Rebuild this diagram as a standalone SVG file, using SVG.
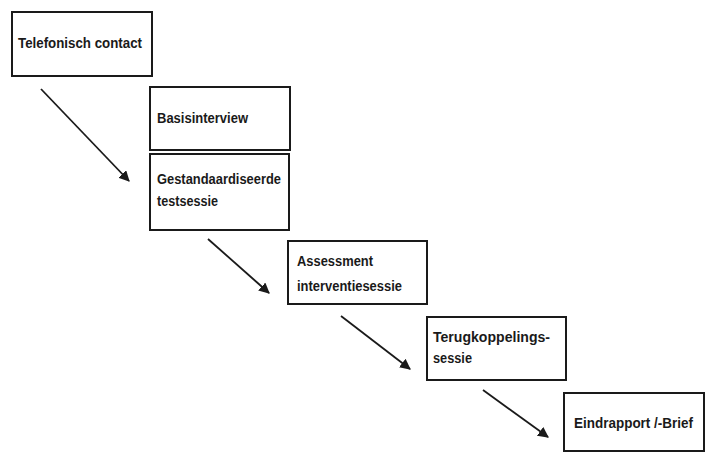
<svg xmlns="http://www.w3.org/2000/svg" width="706" height="456" viewBox="0 0 706 456">
<style>
.box{fill:#fff;stroke:#1a1a1a;stroke-width:2}
.t{font-family:"Liberation Sans",Arial,sans-serif;font-weight:bold;font-size:14px;fill:#1a1a1a}
.c{stroke:#1a1a1a;stroke-width:1.8;fill:none;marker-end:url(#ah)}
</style>
<defs>
<marker id="ah" viewBox="0 0 10 10" refX="9" refY="5" markerWidth="6" markerHeight="6" orient="auto" markerUnits="strokeWidth">
<path d="M0,0 L10,5 L0,10 z" fill="#1a1a1a"/>
</marker>
</defs>
<rect width="706" height="456" fill="#fff"/>
<g id="n1"><rect class="box" x="12" y="12" width="140" height="64"/><text class="t" x="18" y="48" textLength="124" lengthAdjust="spacingAndGlyphs">Telefonisch contact</text></g>
<g id="n2"><rect class="box" x="150" y="87" width="140" height="63"/><text class="t" x="157" y="123" textLength="91" lengthAdjust="spacingAndGlyphs">Basisinterview</text></g>
<g id="n3"><rect class="box" x="150" y="154" width="139" height="76"/><text class="t" x="157" y="184" textLength="124" lengthAdjust="spacingAndGlyphs">Gestandaardiseerde</text><text class="t" x="157" y="206" textLength="61" lengthAdjust="spacingAndGlyphs">testsessie</text></g>
<g id="n4"><rect class="box" x="288" y="241" width="139" height="63"/><text class="t" x="297" y="266" textLength="76" lengthAdjust="spacingAndGlyphs">Assessment</text><text class="t" x="297" y="291" textLength="105" lengthAdjust="spacingAndGlyphs">interventiesessie</text></g>
<g id="n5"><rect class="box" x="427" y="317" width="139" height="63"/><text class="t" x="433" y="342" textLength="117" lengthAdjust="spacingAndGlyphs">Terugkoppelings-</text><text class="t" x="433" y="363" textLength="39" lengthAdjust="spacingAndGlyphs">sessie</text></g>
<g id="n6"><rect class="box" x="564" y="393" width="140" height="58"/><text class="t" x="574" y="428" textLength="119" lengthAdjust="spacingAndGlyphs">Eindrapport /-Brief</text></g>
<g id="connectors">
<line class="c" x1="41" y1="89" x2="129" y2="181"/>
<line class="c" x1="208" y1="239" x2="269" y2="293"/>
<line class="c" x1="341" y1="316" x2="410" y2="369"/>
<line class="c" x1="483" y1="390" x2="548" y2="437"/>
</g>
</svg>
